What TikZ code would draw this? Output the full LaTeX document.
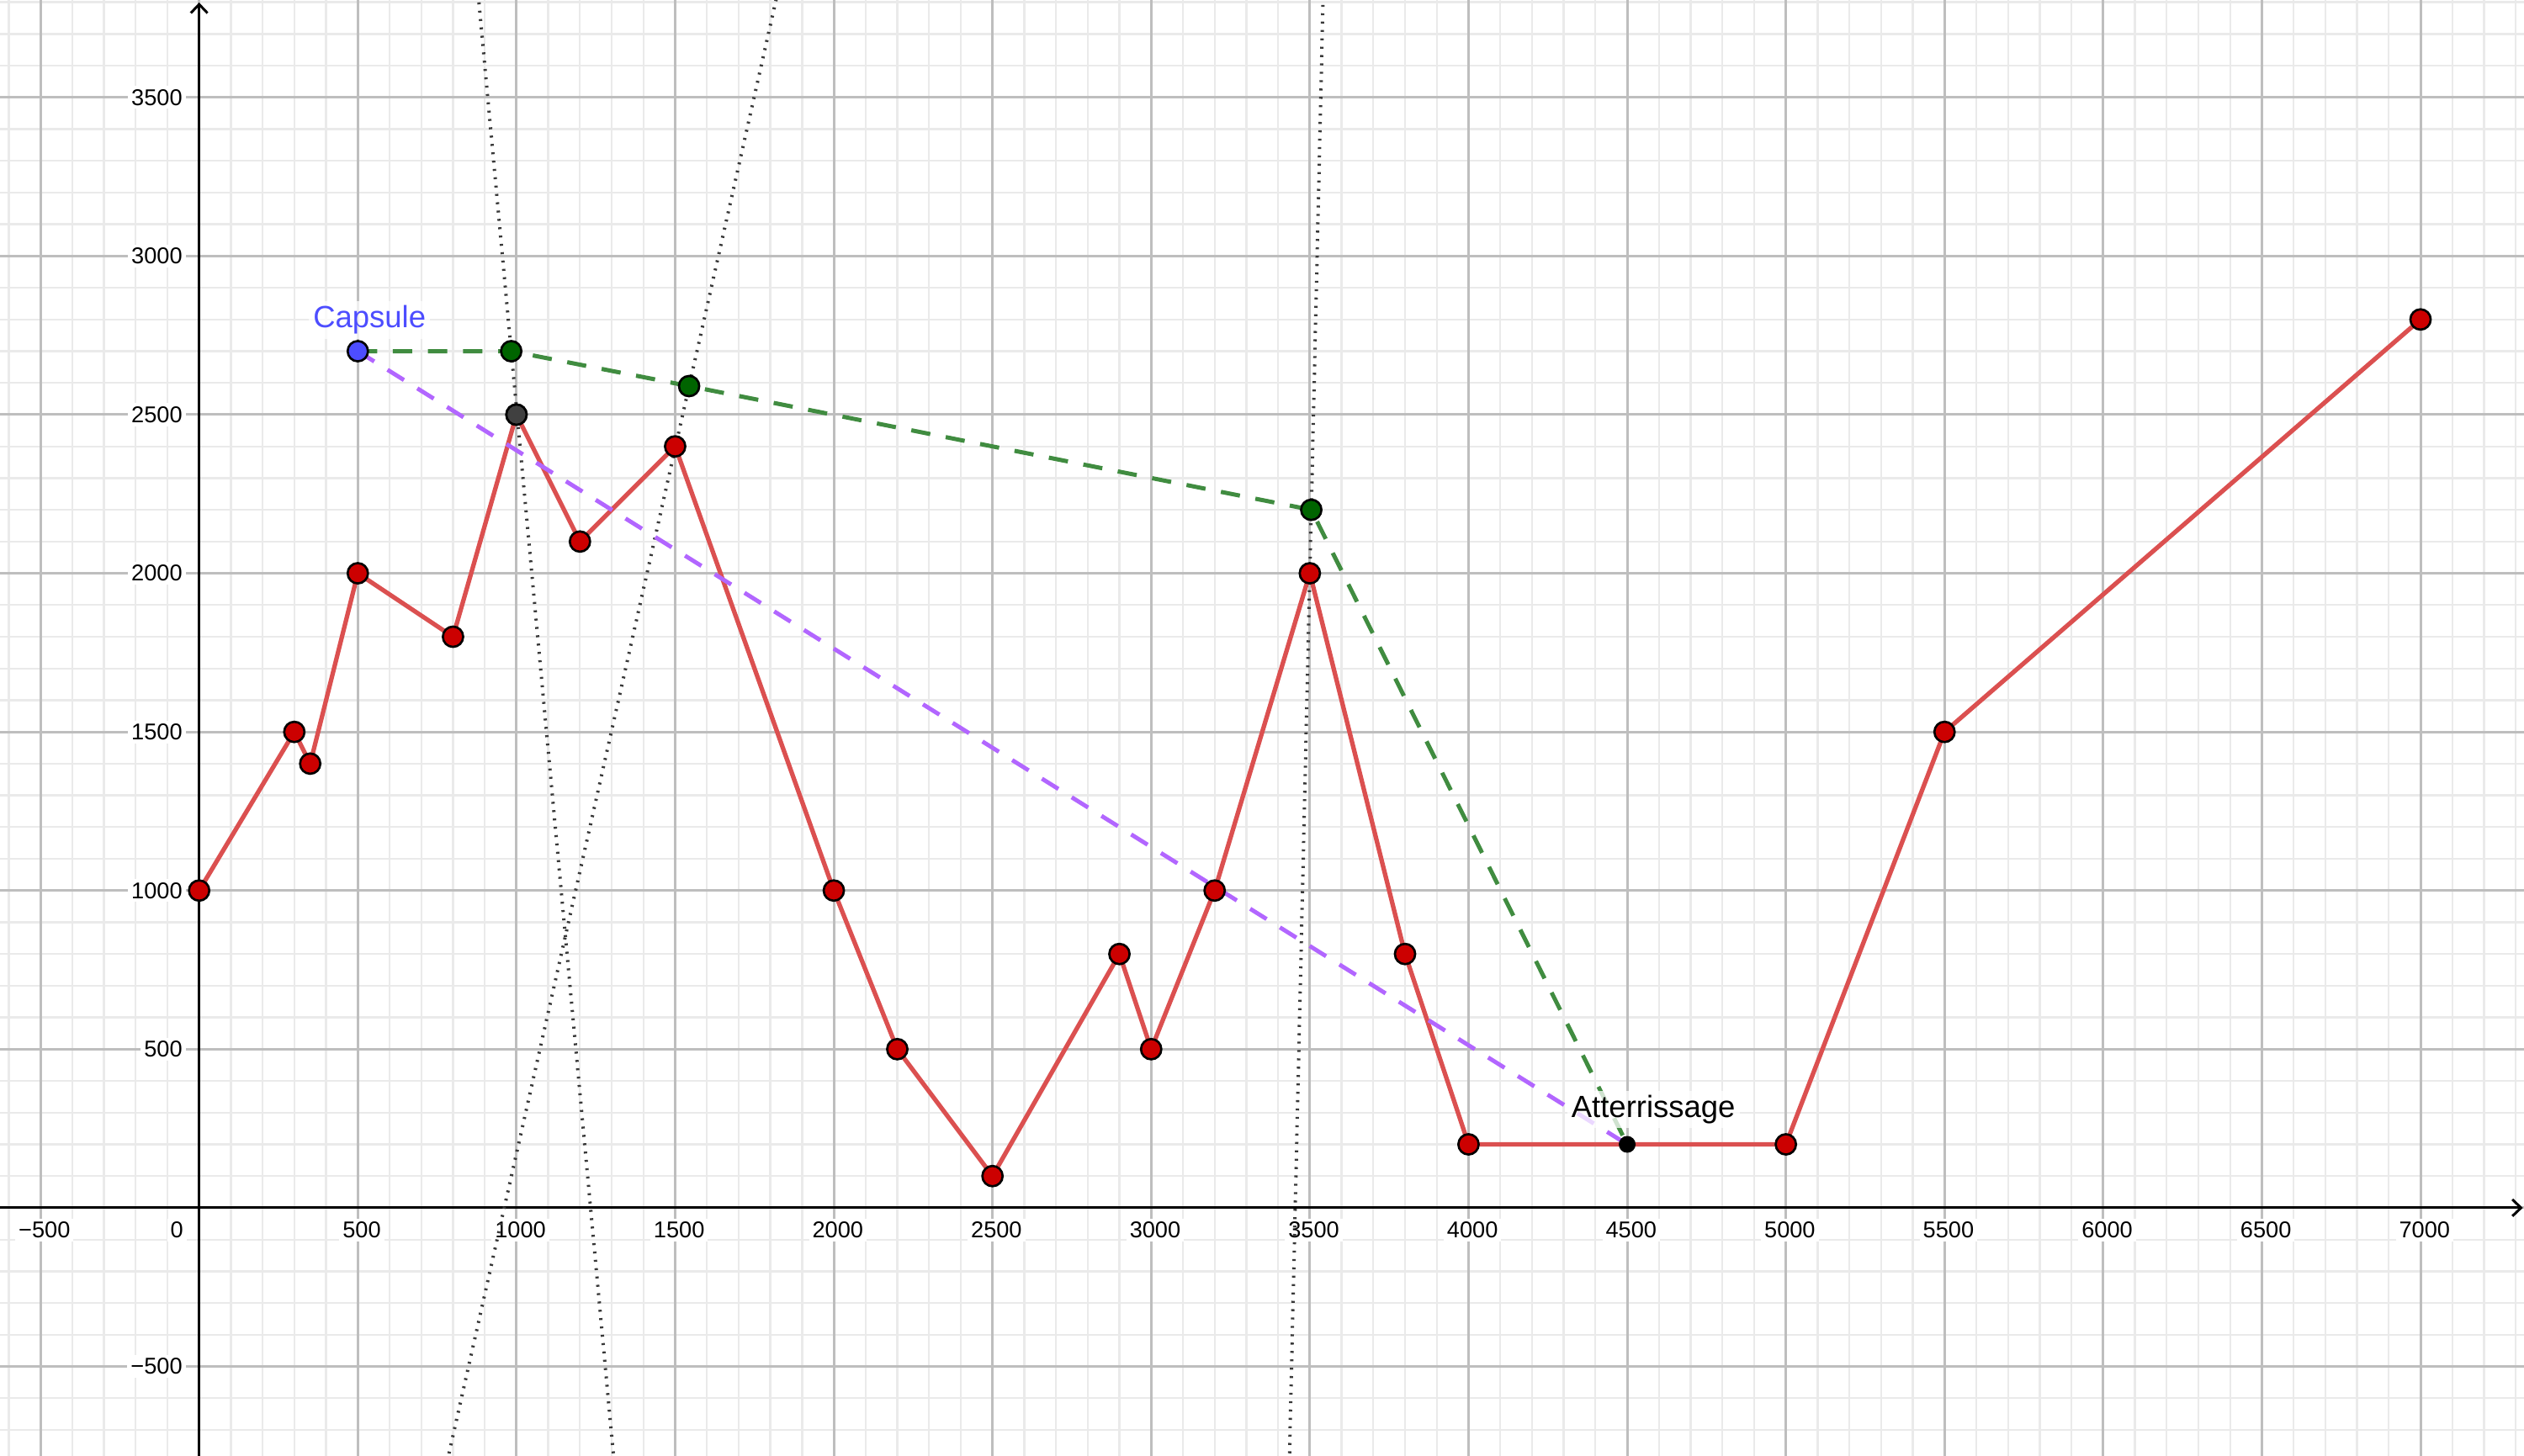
\documentclass[tikz,border=0pt]{standalone}
\usepackage{fontspec}
\setmainfont{Liberation Sans}
\usetikzlibrary{arrows.meta}
\definecolor{gridMaj}{RGB}{190,190,190}
\definecolor{gridMin}{RGB}{234,234,234}
\definecolor{trajR}{RGB}{219,80,80}
\definecolor{ptR}{RGB}{204,0,0}
\definecolor{pathG}{RGB}{64,140,64}
\definecolor{ptG}{RGB}{0,100,0}
\definecolor{lineP}{RGB}{178,102,255}
\definecolor{capB}{RGB}{77,77,255}

\begin{document}
\begin{tikzpicture}[>={Straight Barb[length=0.55mm,width=1.05mm]},
  pt/.style={circle,draw=black,line width=0.4pt,inner sep=0pt,minimum size=1.28mm},
  tick/.style={font=\fontsize{4.1}{4.1}\selectfont,fill=white,inner sep=0.6pt},
  lbl/.style={font=\fontsize{5.5}{5.5}\selectfont,inner sep=0.8pt,fill=white,fill opacity=0.75,text opacity=1},
  dashln/.style={line width=0.75pt,dash pattern=on 3.47pt off 2.82pt},
  dotln/.style={black!78,line width=0.6pt,dash pattern=on 0.35pt off 1.15pt}]
% window: x from -627 to 7326, y from -782 to 3807 (1cm = 500)
\useasboundingbox (-1.255,-1.564) rectangle (14.652,7.614);
\clip (-1.255,-1.564) rectangle (14.652,7.614);
\draw[gridMin,line width=0.35pt,step=0.2] (-1.255,-1.564) grid (14.652,7.614);
\draw[gridMaj,line width=0.45pt,step=1] (-1.255,-1.564) grid (14.652,7.614);
\draw[->,line width=0.45pt] (-1.255,0) -- (14.645,0);
\draw[->,line width=0.45pt] (0,-1.564) -- (0,7.598);
% axis numbers
\foreach \v in {500,1000,...,7000}
  \node[tick] (xt\v) at (\v/500+0.025,-0.14) {\v};
\node[tick] (xtm500) at (-0.975,-0.14) {−500};
\node[tick,anchor=east] (xt0) at (-0.073,-0.14) {0};
\foreach \v in {500,1000,...,3500}
  \node[tick,anchor=east] (yt\v) at (-0.078,\v/500) {\v};
\node[tick,anchor=east] (ytm500) at (-0.078,-1) {−500};
% relief profile
\foreach \n/\x/\y in {1/0/1000,2/300/1500,3/350/1400,4/500/2000,5/800/1800,
    6/1000/2500,7/1200/2100,8/1500/2400,9/2000/1000,10/2200/500,
    11/2500/100,12/2900/800,13/3000/500,14/3200/1000,15/3500/2000,
    16/3800/800,17/4000/200,18/5000/200,19/5500/1500,20/7000/2800}
  \coordinate (p\n) at (\x/500,\y/500);
\coordinate (cap) at (1,5.4);
\coordinate (g1) at (1.967,5.4);
\coordinate (g2) at (3.088,5.18);
\coordinate (g3) at (7.009,4.4);
\coordinate (land) at (9,0.4);
\draw[trajR,line width=0.8pt,line join=round] (p1) \foreach \n in {2,...,20}{ -- (p\n)};
% construction lines
\coordinate (nA1) at (2.615,-1.6); \coordinate (nA2) at (1.754,7.7);
\coordinate (nB1) at (1.563,-1.6); \coordinate (nB2) at (3.655,7.7);
\coordinate (nC1) at (6.871,-1.6); \coordinate (nC2) at (7.085,7.7);
\draw[dotln] (nA1) -- (nA2);
\draw[dotln] (nB1) -- (nB2);
\draw[dotln] (nC1) -- (nC2);
% flight paths
\draw[dashln,lineP] (cap) -- (land);
\draw[dashln,pathG,line join=round] (cap) -- (g1) -- (g2) -- (g3) -- (land);
% points
\foreach \n in {1,...,20}
  \node[pt,fill=ptR] (d\n) at (p\n) {};
\node[pt,fill=black!75] (top) at (p6) {};
\node[pt,fill=ptG] (g1dot) at (g1) {};
\node[pt,fill=ptG] (g2dot) at (g2) {};
\node[pt,fill=ptG] (g3dot) at (g3) {};
\node[pt,fill=capB] (capdot) at (cap) {};
\node[circle,fill=black,inner sep=0pt,minimum size=1.06mm] (landdot) at (land) {};
\node[lbl,text=capB,anchor=base west] (caplbl) at ([shift={(-0.316,0.146)}]cap) {Capsule};
\node[lbl,anchor=base west] (landlbl) at ([shift={(-0.386,0.171)}]land) {Atterrissage};
\end{tikzpicture}
\end{document}
